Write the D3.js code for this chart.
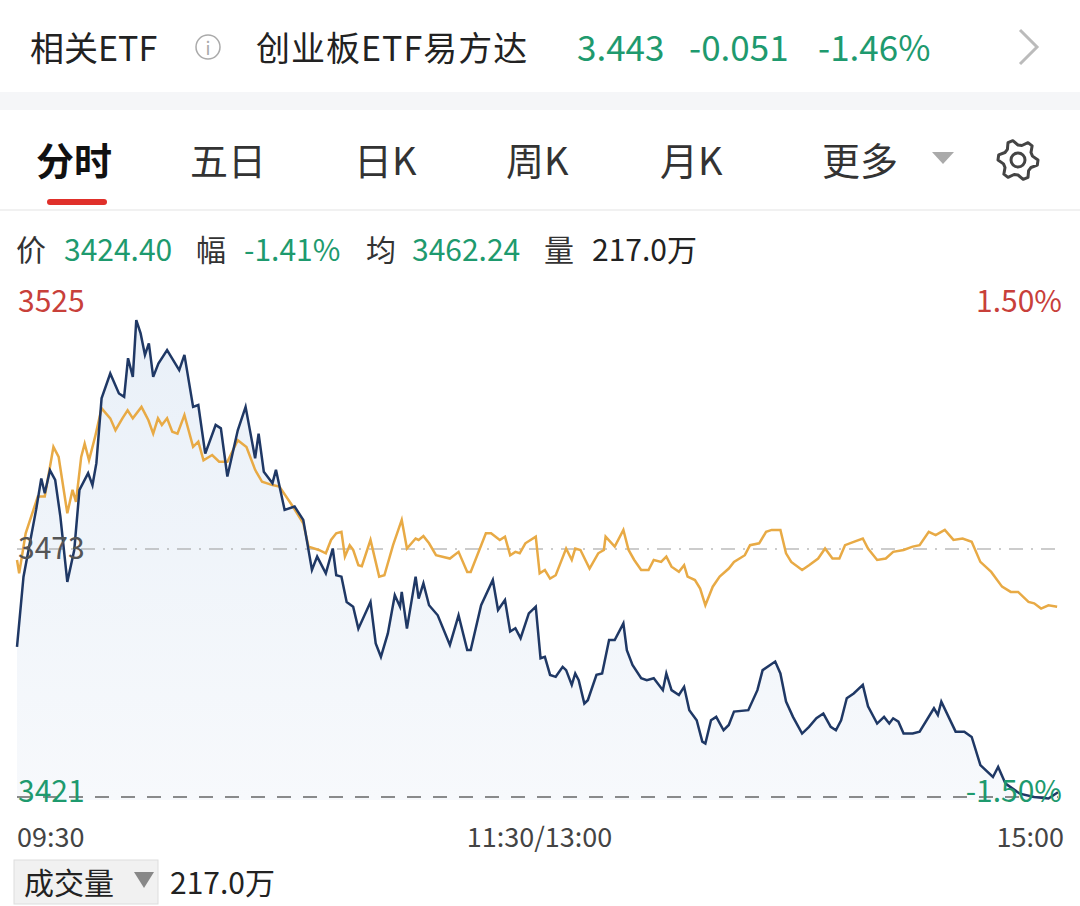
<!DOCTYPE html>
<html><head><meta charset="utf-8">
<script src="https://cdn.jsdelivr.net/npm/d3@7"></script>
<style>body{margin:0;background:#fff;}svg{display:block;font-family:"Noto Sans CJK SC","Noto Sans",sans-serif;}</style>
</head><body><svg id="c" width="1080" height="906"></svg>
<script>
// minutes since 09:30 (trading minutes, 0..240) and price
const priceMin=[0,1.5,4.4,5.6,6.4,7.6,8.8,10,11.6,13.2,14.4,16.4,17.4,18.3,19.5,21.5,23.5,24.7,25.6,26.7,27.5,28.5,29.5,30.4,31.4,32.6,34.6,37.4,38.6,40.6,41.8,43.4,45.8,47,48.5,50.9,52.7,54.9,55.7,56.9,58.9,59.7,61.7,64,66,68,69.2,71.2,72.8,73.6,74.8,76,77.5,78.7,81.5,82.7,83.9,85.5,87.1,88.3,88.7,89.9,91.9,92.6,93.7,95,97,99.8,101.8,103.8,104.6,107,109.7,110.9,112.5,113.7,114.9,116.1,118,119.6,120.7,121.7,122.9,124.2,125.8,126.6,127.9,128.7,129.5,130.8,131.6,133.6,134.9,136.5,137.8,139.8,140.6,141.9,143.9,145.2,146.8,148.9,149.7,150.9,152.6,153.8,155,156.7,158,158.7,160,161.2,162.9,164.1,165.3,168.6,170.7,171.9,174.8,176,177.3,178.9,181,182.6,184.3,185.9,187.6,188.8,190,191.3,192.9,195,196.2,198.3,199.9,201.1,202,203.2,204.4,206.5,208.1,211.4,212.3,213.1,216.4,218.4,220.1,222.1,225,226.2,227.9,231.2,234.5,237.8,240];
const priceVal=[3452.5,3467.2,3481.2,3487.8,3484.7,3489.5,3487.5,3479.8,3466.1,3472.8,3485.4,3488.9,3486.4,3491,3504.6,3509.8,3505.6,3504.9,3513,3509.1,3521,3518.2,3513.7,3516.1,3509.1,3511.9,3514.7,3510.5,3513.7,3502.8,3503.2,3493,3499,3498.3,3488.2,3497.9,3502.8,3492,3497.2,3489.2,3486.8,3489.6,3481.2,3481.9,3479.1,3468.6,3471.4,3467.9,3473.1,3467.5,3467.2,3461.9,3460.9,3456.3,3461.9,3453.2,3450.4,3455.3,3463.3,3460.9,3464,3456.3,3467.2,3462.6,3465.8,3461.2,3459.1,3452.9,3459.1,3451.8,3451.8,3461.2,3466.5,3460.2,3462.3,3455.7,3456.4,3454.3,3459.5,3460.9,3450.1,3450.4,3446.6,3446.2,3448.3,3447.6,3444.5,3446.9,3445.5,3440.6,3441.3,3446.6,3446.9,3453.9,3453.9,3457.4,3451.8,3448.7,3445.9,3445.5,3445.9,3443.4,3446.9,3443.4,3442.4,3444.1,3439.2,3437.1,3432.6,3432.2,3437.1,3437.8,3435,3436.1,3438.9,3439.2,3443.4,3447.6,3449.4,3446.9,3441,3437.8,3434.3,3435.7,3437.5,3438.5,3435.7,3435,3437.1,3441.7,3442.7,3444.5,3440,3436.4,3437.8,3436.4,3437.5,3436.8,3434.3,3434.3,3434.7,3439.6,3438.2,3441,3434.7,3434.7,3433.6,3427.7,3425.2,3427.3,3423.8,3421.7,3421,3420.7,3422];
const avgMin=[0,0.5,2,4.8,6.4,8.4,9.6,11.6,12.8,13.6,14.8,15.6,16.6,18,19.5,21.5,22.7,24.3,25.5,26.7,28.7,30.3,31.4,32.5,33.4,34.6,35.8,37,38.6,40.6,41.8,43,45,46.6,48.5,50.9,52.9,54.9,56.5,58.9,60.5,63.6,66,67.2,69.6,71.2,72.4,73.6,74.8,75.6,76.7,77.5,78.7,79.5,81.5,83.5,84.7,86.7,88.7,89.9,91.9,92.6,93.7,95,96.6,99.8,101.8,103.8,104.6,108.1,109.3,111.3,112.5,113.7,114.9,115.9,117.2,119.6,120.5,121.7,122.9,124.2,125.4,126.6,127.9,128.7,129.9,132,134,135.3,135.7,137.8,139.8,141,142.3,143.9,145.6,146.8,148.5,149.7,150.9,152.6,153.8,154.6,156.3,157.5,158.7,160.4,162,164.1,165.3,167.8,169,171.1,172.7,174,176,177.3,178.5,181,182.6,184.7,186.3,188,189.6,190.9,192.9,195,196.2,198.3,200.3,202,204.4,206.5,208.1,210.2,211.8,213.9,215.9,218,220.1,222.1,224.6,227.1,229.1,230.8,233.2,234.5,236.1,237.8,239.8];
const avgVal=[3470.7,3467.9,3476.3,3484,3484,3494.4,3492.3,3480.5,3485.4,3482.9,3492.3,3495.1,3491.6,3496.5,3502.5,3500.4,3497.9,3500.4,3502.1,3500.4,3502.8,3500,3497.2,3500.4,3499,3500.4,3497.6,3497.2,3501.1,3494.4,3495.5,3491.6,3492.7,3491.3,3491.3,3495.8,3494.4,3489.6,3487.1,3486.4,3486.1,3481.9,3478.4,3473.5,3472.8,3472.1,3474.9,3476.3,3476.6,3471.4,3473.8,3472.8,3469.6,3469.4,3474.9,3467.2,3467.5,3473.8,3479.1,3473.1,3475.2,3474.9,3475.7,3474.2,3471.7,3471,3472.4,3468.2,3468.2,3476.3,3476.3,3474.9,3475.6,3471.7,3472.4,3472.1,3474.2,3475.6,3467.9,3468.6,3466.8,3467.5,3470.3,3473.1,3470.7,3473.1,3472.8,3468.9,3472.1,3472.8,3475.6,3473.5,3477,3472.8,3470.7,3468.6,3468.6,3470.7,3470.3,3471.4,3469.3,3468.2,3469.6,3467.2,3466.5,3464.7,3461.2,3465.1,3467.2,3468.9,3470.3,3471.7,3473.8,3474.2,3476.6,3477,3477,3472.1,3470.3,3468.6,3469.6,3471,3473.1,3471,3471,3473.8,3474.5,3475.2,3473.1,3470.7,3471,3472.4,3472.8,3473.5,3473.8,3476.6,3475.9,3477,3474.9,3475.2,3474.5,3470.3,3468.2,3465.1,3464,3464,3461.9,3461.6,3460.5,3461.2,3460.9];
const yTicks=[3525,3473,3421];
const pctTicks=["1.50%","","-1.50%"];
const timeLabels=["09:30","11:30/13:00","15:00"];
const GREEN="#1e9a6e",RED="#c8403a";

const svg=d3.select("#c");
const x=d3.scaleLinear().domain([0,240]).range([17,1058]);
const y=d3.scaleLinear().domain([3421,3525]).range([797,301]);

// header
const h=svg.append("g");
h.append("text").attr("x",30).attr("y",61).attr("font-size",34).attr("fill","#222").text("相关ETF");
h.append("circle").attr("cx",208).attr("cy",47).attr("r",12).attr("fill","none").attr("stroke","#aaa").attr("stroke-width",1.5);
h.append("text").attr("x",208).attr("y",55).attr("text-anchor","middle").attr("font-size",18).attr("fill","#aaa").text("i");
h.append("text").attr("x",256).attr("y",61).attr("font-size",34).attr("letter-spacing",1).attr("fill","#222").text("创业板ETF易方达");
h.append("text").attr("x",577).attr("y",61).attr("font-size",35).attr("fill",GREEN).text("3.443");
h.append("text").attr("x",689).attr("y",61).attr("font-size",35).attr("fill",GREEN).text("-0.051");
h.append("text").attr("x",818).attr("y",61).attr("font-size",35).attr("fill",GREEN).text("-1.46%");
h.append("path").attr("d","M1020,30 L1037,47 L1020,64").attr("fill","none").attr("stroke","#bbb").attr("stroke-width",3);
svg.append("rect").attr("x",0).attr("y",92).attr("width",1080).attr("height",18).attr("fill","#f5f6f8");

// tabs
const tabs=[["分时",36],["五日",190],["日K",354],["周K",506],["月K",660],["更多",822]];
tabs.forEach((t,i)=>svg.append("text").attr("x",t[1]).attr("y",175).attr("font-size",38).attr("font-weight",i==0?"bold":"normal").attr("fill",i==0?"#111":"#333").text(t[0]));
svg.append("path").attr("d","M932,152 L954,152 L943,164 Z").attr("fill","#aaa");
svg.append("rect").attr("x",47).attr("y",199).attr("width",60).attr("height",6).attr("rx",3).attr("fill","#e0302a");
const g0=svg.append("g").attr("transform","translate(1018,160)");
const gear=d3.range(12).map(i=>{const a=i*Math.PI/6+Math.PI/12;const r=i%2==0?20:16;return [r*Math.cos(a),r*Math.sin(a)];});
g0.append("path").attr("d",d3.line().curve(d3.curveLinearClosed)(d3.range(24).map(i=>{const a=i*Math.PI/12;const r=(Math.floor(i/2)%2==0)?20:15;return [r*Math.cos(a),r*Math.sin(a)];}))).attr("fill","none").attr("stroke","#444").attr("stroke-width",3).attr("stroke-linejoin","round");
g0.append("circle").attr("r",7).attr("fill","none").attr("stroke","#444").attr("stroke-width",3);
svg.append("line").attr("x1",0).attr("x2",1080).attr("y1",210).attr("y2",210).attr("stroke","#e3e3e3");

// info row
const info=[["价",16,"#333"],["3424.40",64,GREEN],["幅",196,"#333"],["-1.41%",244,GREEN],["均",366,"#333"],["3462.24",412,GREEN],["量",544,"#333"],["217.0万",592,"#222"]];
info.forEach(d=>svg.append("text").attr("x",d[1]).attr("y",261).attr("font-size",30).attr("fill",d[2]).text(d[0]));

// area + lines
const pts=priceMin.map((m,i)=>[m,priceVal[i]]);
const apts=avgMin.map((m,i)=>[m,avgVal[i]]);
const grad=svg.append("defs").append("linearGradient").attr("id","gf").attr("x1",0).attr("x2",0).attr("y1",0).attr("y2",1);
grad.append("stop").attr("offset","0").attr("stop-color","#e9f0f8");
grad.append("stop").attr("offset","1").attr("stop-color","#f7f9fc");
svg.append("path").datum(pts).attr("fill","url(#gf)").attr("d",d3.area().x(d=>x(d[0])).y0(800).y1(d=>y(d[1])));
svg.append("line").attr("x1",17).attr("x2",1058).attr("y1",y(3473)).attr("y2",y(3473)).attr("stroke","#999").attr("stroke-dasharray","14,8,2,8");
svg.append("line").attr("x1",17).attr("x2",1058).attr("y1",y(3421)).attr("y2",y(3421)).attr("stroke","#666").attr("stroke-width",1.5).attr("stroke-dasharray","14,12");
svg.append("path").datum(apts).attr("fill","none").attr("stroke","#e8aa45").attr("stroke-width",2.5).attr("d",d3.line().x(d=>x(d[0])).y(d=>y(d[1])));
svg.append("path").datum(pts).attr("fill","none").attr("stroke","#1f3865").attr("stroke-width",2.5).attr("d",d3.line().x(d=>x(d[0])).y(d=>y(d[1])));

// y labels
const cols=[RED,"#555",GREEN];
yTicks.forEach((t,i)=>{
  svg.append("text").attr("x",18).attr("y",y(t)+(i==0?11:i==2?5:10)).attr("font-size",30).attr("fill",cols[i]).text(t);
  if(pctTicks[i]) svg.append("text").attr("x",1062).attr("y",y(t)+(i==0?11:5)).attr("text-anchor","end").attr("font-size",30).attr("fill",cols[i]).text(pctTicks[i]);
});
// time labels
const tx=[0,120,240],anc=["start","middle","end"];
timeLabels.forEach((t,i)=>svg.append("text").attr("x",x(tx[i])+(i==0?0:i==2?6:2)).attr("y",847).attr("text-anchor",anc[i]).attr("font-size",27).attr("fill","#444").text(t));

// volume
svg.append("rect").attr("x",14).attr("y",860).attr("width",144).attr("height",44).attr("fill","#f1f1f1").attr("stroke","#ddd");
svg.append("text").attr("x",24).attr("y",894).attr("font-size",30).attr("fill","#222").text("成交量");
svg.append("path").attr("d","M134,872 L154,872 L144,888 Z").attr("fill","#888");
svg.append("text").attr("x",170).attr("y",894).attr("font-size",30).attr("fill","#222").text("217.0万");
</script></body></html>
